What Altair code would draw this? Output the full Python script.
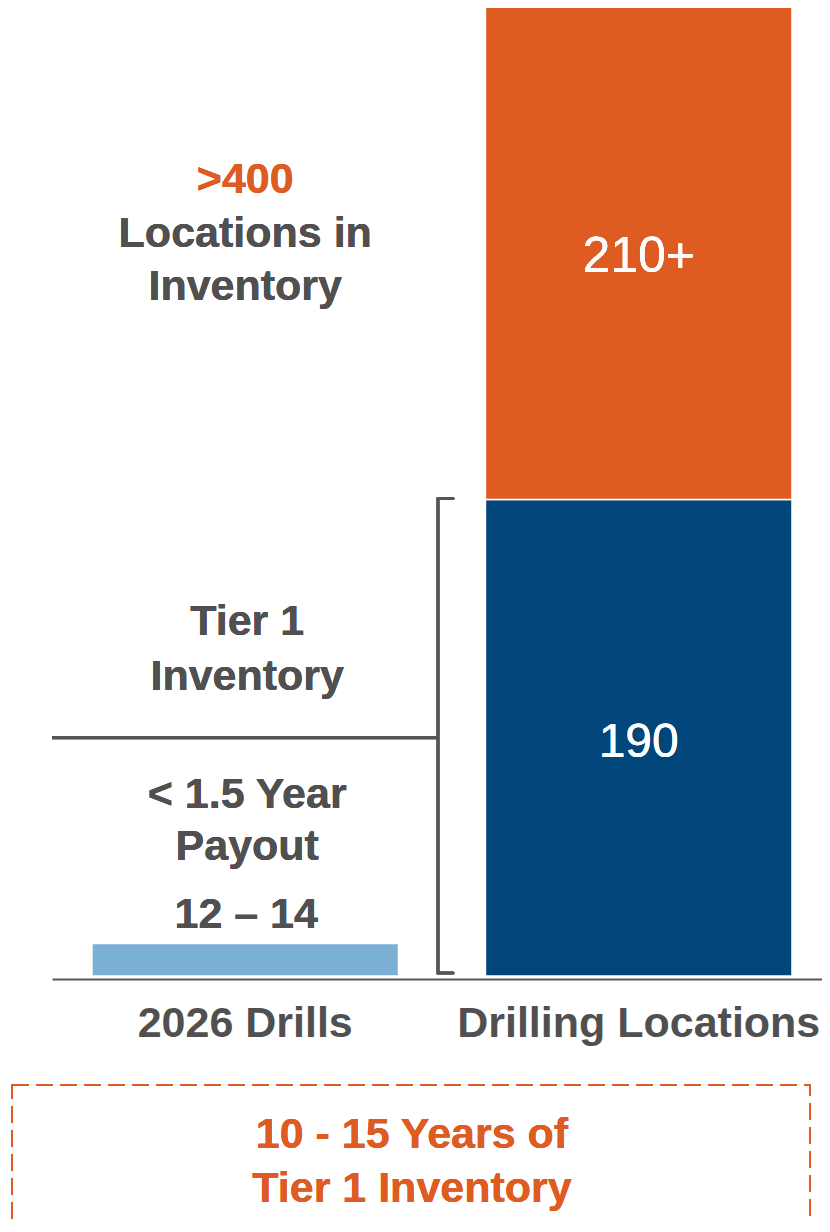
import altair as alt
import pandas as pd

# ---- data ----
categories = ["2026 Drills", "Drilling Locations"]
bar_category = ["2026 Drills", "Drilling Locations", "Drilling Locations"]
bar_segment = ["2026 Drills", "Tier 1", "Additional"]
bar_value = [13, 190, 210]
bar_order = [0, 0, 1]
bar_labels = ["12 – 14", "190", "210+"]

top_headline = ">400"
top_lines = ["Locations in", "Inventory"]
tier_lines = ["Tier 1", "Inventory"]
payout_lines = ["< 1.5 Year", "Payout"]
box_lines = ["10 - 15 Years of", "Tier 1 Inventory"]

ORANGE = "#DE5B22"
BLUE = "#00467A"
LIGHT = "#7BAFD4"
GRAY = "#505050"
LINE = "#555555"
FONT = "Liberation Sans, Arial, sans-serif"

df = pd.DataFrame({
    "category": bar_category,
    "segment": bar_segment,
    "value": bar_value,
    "order": bar_order,
})

x_scale = alt.Scale(domain=categories, paddingInner=0.221, paddingOuter=0.0889, align=0.571)
y_scale = alt.Scale(domain=[0, 386], nice=False, zero=True)

x_enc = alt.X(
    "category:N",
    sort=categories,
    scale=x_scale,
    axis=alt.Axis(
        title=None, labelAngle=0, ticks=False, tickSize=0,
        domainColor=LINE, domainWidth=2, offset=3,
        labelFont=FONT, labelFontSize=43, labelFontWeight="bold",
        labelColor=GRAY, labelPadding=57, labelBaseline="alphabetic",
        labelLimit=0, grid=False,
    ),
)

bars = alt.Chart(df).mark_bar(clip=True, stroke="white", strokeWidth=1.5).encode(
    x=x_enc,
    y=alt.Y("value:Q", stack="zero", scale=y_scale, axis=None),
    color=alt.Color("segment:N", scale=alt.Scale(domain=bar_segment, range=[LIGHT, BLUE, ORANGE]), legend=None),
    order=alt.Order("order:Q"),
)


def xd(cat):
    return alt.XDatum(cat, type="nominal", bandPosition=0.5)


def yd(v):
    return alt.YDatum(v, type="quantitative", axis=None)


def txt(text, color, size=43, weight="bold", lh=54, dx=0):
    return alt.Chart(df).mark_text(
        text=text, color=color, font=FONT, fontSize=size, fontWeight=weight,
        align="center", baseline="alphabetic", lineHeight=lh, dx=dx,
    )


ann = [
    txt(top_headline, ORANGE).encode(x=xd(categories[0]), y=yd(312.2)),
    txt(top_lines, GRAY, lh=53.5).encode(x=xd(categories[0]), y=yd(290.7)),
    txt(tier_lines, GRAY, lh=55, dx=2).encode(x=xd(categories[0]), y=yd(136.0)),
    txt(payout_lines, GRAY, lh=52, dx=2).encode(x=xd(categories[0]), y=yd(67.0)),
    txt(bar_labels[0], GRAY, dx=1).encode(x=xd(categories[0]), y=yd(19.1)),
    txt(bar_labels[2], "white", size=50, weight="normal").encode(x=xd(categories[1]), y=yd(280.7)),
    txt(bar_labels[1], "white", size=48, weight="normal").encode(x=xd(categories[1]), y=yd(87.3)),
]

divider = alt.Chart(df).mark_rule(color=LINE, strokeWidth=3).encode(
    x=alt.value(0), x2=alt.value(386), y=yd(95)
)
bracket_v = alt.Chart(df).mark_rule(color=LINE, strokeWidth=3, strokeCap="round").encode(
    x=alt.value(386), y=yd(190.4), y2=alt.Y2Datum(1.2)
)
bracket_t = alt.Chart(df).mark_rule(color=LINE, strokeWidth=3, strokeCap="round").encode(
    x=alt.value(386), x2=alt.value(401), y=yd(190.4)
)
bracket_b = alt.Chart(df).mark_rule(color=LINE, strokeWidth=3, strokeCap="round").encode(
    x=alt.value(386), x2=alt.value(401), y=yd(1.2)
)

box = alt.Chart(df).mark_rect(
    fill="white", fillOpacity=0, stroke=ORANGE, strokeWidth=2, strokeDash=[17, 7]
).encode(x=alt.value(-40), x2=alt.value(758), y=alt.value(1077), y2=alt.value(1222))

box_text = txt(box_lines, ORANGE, lh=54).encode(x=alt.value(360), y=alt.value(1140))

chart = alt.layer(
    bars, divider, bracket_v, bracket_t, bracket_b, *ann, box, box_text
).properties(
    width=770, height=968,
    autosize=alt.AutoSizeParams(type="none"),
    padding={"left": 44, "top": 0, "right": 0, "bottom": 244},
).configure(background="white").configure_view(strokeWidth=0, stroke="transparent")

chart.save("out.html", embed_options={"renderer": "svg", "actions": False})
